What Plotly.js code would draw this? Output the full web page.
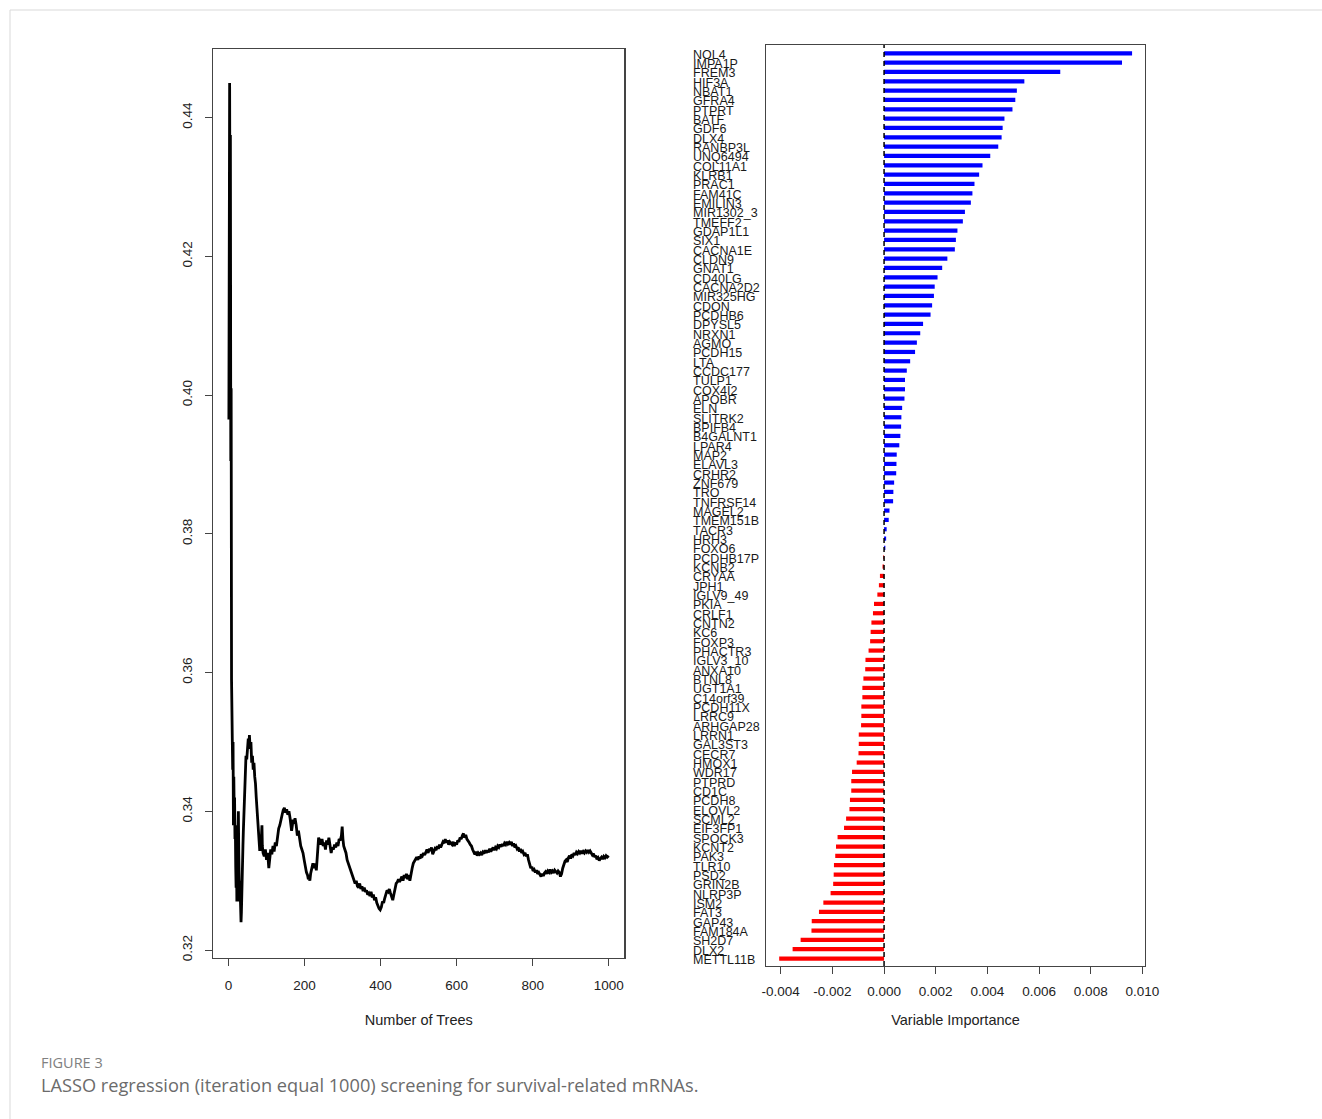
<!DOCTYPE html>
<html>
<head>
<meta charset="utf-8">
<script src="https://cdn.plot.ly/plotly-3.0.1.min.js"></script>
<style>
html,body{margin:0;padding:0;background:#fff;}
#chart{width:1322px;height:1119px;}
</style>
</head>
<body>
<div id="chart"></div>
<script>
// ---- Left panel: error vs number of trees ----
const treeNum = [1,2,3,4,5,6,7,8,9,10,11,12,13,14,15,16,17,18,19,20,21,22,23,24,25,26,27,28,29,30,
  31,32,33,34,35,36,37,38,39,40,41,42,43,44,46,48,50,52,54,55,57,59,61,63,65,67,69,71,73,75,77,79,80,82,85,87,88,89,91,94,97,100,103,106,108,
  111,114,117,120,123,126,129,132,135,138,141,144,147,150,153,156,159,162,164,166,168,170,172,175,178,181,184,187,190,193,196,199,202,205,208,210,212,214,216,219,
  222,225,228,231,234,237,240,243,246,249,252,255,258,261,264,267,270,273,276,279,282,285,288,291,294,297,299,301,303,306,309,312,315,318,321,324,327,330,
  333,336,339,342,345,348,351,354,357,360,363,366,369,372,375,378,381,384,387,390,393,396,399,402,405,408,411,414,417,420,423,426,429,432,435,438,441,444,447,450,
  453,456,459,462,465,468,471,474,477,480,483,486,489,492,495,498,501,504,507,510,513,516,519,522,525,528,531,534,537,540,543,546,549,552,555,558,561,564,567,570,
  573,576,579,582,585,588,591,594,597,600,603,606,609,612,615,618,621,624,627,630,633,636,639,642,645,648,651,654,657,660,663,666,669,672,675,678,681,684,687,690,
  693,696,699,702,705,708,711,714,717,720,723,726,729,732,735,738,741,744,747,750,753,756,759,762,765,768,771,774,777,780,783,786,789,792,795,798,801,804,807,810,
  813,816,819,822,825,828,831,834,837,840,843,846,849,852,855,858,861,864,867,870,873,876,879,882,885,888,891,894,897,900,903,906,909,912,915,918,921,924,927,930,
  933,936,939,942,945,948,951,954,957,960,963,966,969,972,975,978,981,984,987,990,993,996,1000];
const errRate = [0.3965,0.421,0.445,0.4205,0.4375,0.3905,0.401,0.359,0.352,0.3525,0.346,0.350,0.338,0.345,0.340,0.342,0.336,0.338,0.332,0.329,0.334,0.327,0.330,0.333,0.338,0.340,0.334,0.329,0.327,0.330,
  0.326,0.3245,0.324,0.3255,0.330,0.329,0.331,0.335,0.337,0.339,0.3385,0.342,0.344,0.346,0.348,0.3475,0.349,0.3505,0.3495,0.351,0.349,0.350,0.347,0.348,0.346,0.347,0.345,0.344,0.342,0.340,0.338,0.336,0.335,0.3345,0.3345,0.3365,0.338,0.335,0.334,0.3335,0.3345,0.333,0.334,0.3318,0.333,
  0.3345,0.3338,0.3350,0.3342,0.3355,0.3350,0.3365,0.3375,0.3380,0.3390,0.3395,0.3402,0.3405,0.3398,0.3403,0.3395,0.3400,0.3390,0.3384,0.3372,0.3380,0.3388,0.3382,0.3390,0.3380,0.3365,0.3372,0.3360,0.3350,0.3345,0.3340,0.3330,0.3320,0.3312,0.3308,0.3302,0.3305,0.3300,0.3310,0.3316,
  0.3325,0.3318,0.3325,0.3315,0.3345,0.3362,0.3358,0.3352,0.3360,0.3350,0.3355,0.3345,0.3358,0.3352,0.3362,0.3350,0.3340,0.3348,0.3345,0.3352,0.3348,0.3355,0.3350,0.3360,0.3358,0.3365,0.3378,0.3360,0.3350,0.3345,0.3340,0.3330,0.3325,0.3320,0.3316,0.3310,0.3305,0.3300,
  0.3296,0.3300,0.3292,0.3290,0.3296,0.3288,0.3292,0.3285,0.3290,0.3284,0.3286,0.3280,0.3282,0.3278,0.3284,0.3276,0.3280,0.3272,0.3276,0.3268,0.3262,0.3260,0.3258,0.3262,0.3270,0.3268,0.3275,0.3280,0.3286,0.3284,0.3288,0.3282,0.3275,0.3272,0.3280,0.3290,0.3296,0.3298,0.3302,0.3298,
  0.3302,0.3306,0.3300,0.3308,0.3304,0.3310,0.3302,0.3308,0.3300,0.3312,0.3318,0.3325,0.3328,0.3330,0.3334,0.3330,0.3335,0.3332,0.3338,0.3336,0.3340,0.3337,0.3342,0.3345,0.3340,0.3346,0.3343,0.3348,0.3338,0.3342,0.3346,0.3344,0.3350,0.3346,0.3352,0.3348,0.3352,0.3356,0.3354,0.3360,
  0.3355,0.3358,0.3352,0.3356,0.3354,0.3352,0.3356,0.3350,0.3355,0.3352,0.3358,0.3356,0.3362,0.3360,0.3365,0.3368,0.3362,0.3366,0.3360,0.3358,0.3355,0.3352,0.3350,0.3345,0.3340,0.3338,0.3342,0.3336,0.3340,0.3338,0.3340,0.3337,0.3341,0.3339,0.3344,0.3340,0.3344,0.3341,0.3346,0.3342,
  0.3345,0.3348,0.3344,0.3348,0.3346,0.3350,0.3348,0.3352,0.3349,0.3353,0.3350,0.3354,0.3352,0.3356,0.3353,0.3355,0.3352,0.3356,0.3350,0.3354,0.3348,0.3350,0.3346,0.3348,0.3342,0.3346,0.3340,0.3342,0.3338,0.3340,0.3335,0.3338,0.3330,0.3322,0.3318,0.3320,0.3314,0.3316,0.3312,0.3315,
  0.3310,0.3312,0.3308,0.3306,0.3310,0.3307,0.3311,0.3313,0.3310,0.3314,0.3312,0.3316,0.3312,0.3314,0.3311,0.3315,0.3313,0.3311,0.3314,0.3312,0.3306,0.3310,0.3318,0.3325,0.3328,0.3330,0.3327,0.3333,0.3336,0.3332,0.3338,0.3336,0.3340,0.3337,0.3341,0.3339,0.3342,0.3340,0.3343,0.3339,
  0.3342,0.3340,0.3343,0.3341,0.3344,0.3341,0.3343,0.3340,0.3337,0.3339,0.3334,0.3336,0.3331,0.3333,0.3329,0.3332,0.3334,0.3331,0.3335,0.3333,0.3336,0.3334,0.3336];
const treeTicks = [0,200,400,600,800,1000];
const errTicks = [0.32,0.34,0.36,0.38,0.40,0.42,0.44];
const errTickText = ["0.32","0.34","0.36","0.38","0.40","0.42","0.44"];

// ---- Right panel: variable importance ----
const genes = ["NOL4","IMPA1P","FREM3","HIF3A","NBAT1","GFRA4","PTPRT","BATF","GDF6","DLX4",
  "RANBP3L","UNQ6494","COL11A1","KLRB1","PRAC1","FAM41C","EMILIN3","MIR1302_3","TMEFF2","GDAP1L1",
  "SIX1","CACNA1E","CLDN9","GNAT1","CD40LG","CACNA2D2","MIR325HG","CDON","PCDHB6","DPYSL5",
  "NRXN1","AGMO","PCDH15","LTA","CCDC177","TULP1","COX4I2","APOBR","ELN","SLITRK2",
  "BPIFB4","B4GALNT1","LPAR4","MAP2","ELAVL3","CRHR2","ZNF679","TRO","TNFRSF14","MAGEL2",
  "TMEM151B","TACR3","HRH3","FOXO6","PCDHB17P","KCNB2","CRYAA","JPH1","IGLV9_49","PKIA",
  "CRLF1","CNTN2","KC6","FOXP3","PHACTR3","IGLV3_10","ANXA10","BTNL8","UGT1A1","C14orf39",
  "PCDH11X","LRRC9","ARHGAP28","LRRN1","GAL3ST3","CECR7","HMOX1","WDR17","PTPRD","CD1C",
  "PCDH8","ELOVL2","SCML2","EIF3FP1","SPOCK3","KCNT2","PAK3","TLR10","PSD2","GRIN2B",
  "NLRP3P","ISM2","FAT3","GAP43","FAM184A","SH2D7","DLX2","METTL11B"];
const importance = [0.0096,0.00921,0.00682,0.00543,0.00514,0.00508,0.00497,0.00466,0.00459,0.00455,
  0.00442,0.00411,0.00381,0.00368,0.0035,0.00342,0.00336,0.00313,0.00305,0.00284,
  0.00278,0.00274,0.00245,0.00225,0.00207,0.00196,0.00193,0.00186,0.0018,0.00151,
  0.0014,0.00127,0.0012,0.00101,0.00088,0.00081,0.00081,0.00079,0.0007,0.00067,
  0.00066,0.00063,0.00059,0.00049,0.00048,0.00047,0.00039,0.00036,0.00035,0.00021,
  0.00018,0.0001,0.00008,0.00005,-0.00003,-0.00006,-0.00016,-0.0002,-0.00026,-0.00039,
  -0.00043,-0.00049,-0.00052,-0.00054,-0.0006,-0.00072,-0.00073,-0.0008,-0.00084,-0.00084,
  -0.00088,-0.00088,-0.00089,-0.00098,-0.00098,-0.00099,-0.00106,-0.00124,-0.00127,-0.00127,
  -0.00132,-0.00134,-0.00147,-0.00155,-0.0018,-0.00186,-0.00189,-0.00194,-0.00195,-0.00197,
  -0.00207,-0.00235,-0.00252,-0.0028,-0.00281,-0.00323,-0.00354,-0.00406];
const impTicks = [-0.004,-0.002,0.000,0.002,0.004,0.006,0.008,0.010];
const impTickText = ["-0.004","-0.002","0.000","0.002","0.004","0.006","0.008","0.010"];

const captionLabel = "FIGURE 3";
const captionText = "LASSO regression (iteration equal 1000) screening for survival-related mRNAs.";

// ---- build ----
const W = 1322, H = 1119;
const px = v => v / W;
const py = v => 1 - v / H;
const FONT = "Liberation Sans, Arial, sans-serif";
const axisCol = "#444";

const rank = genes.map((g, i) => i);

const traces = [
  {type: "scatter", mode: "lines", x: treeNum, y: errRate, xaxis: "x", yaxis: "y",
   line: {color: "#000", width: 2.8}, hoverinfo: "x+y"},
  {type: "bar", orientation: "h", x: importance, y: rank, base: 0, width: 0.45,
   xaxis: "x2", yaxis: "y2",
   marker: {color: importance.map(v => v >= 0 ? "#0000FF" : "#FF0000"), line: {width: 0}},
   hovertext: genes, hoverinfo: "text+x"}
];

const baseAxis = {showgrid: false, zeroline: false, showline: true, mirror: true,
  linecolor: axisCol, linewidth: 1.2, ticks: "outside", ticklen: 7, tickwidth: 1,
  tickcolor: axisCol, automargin: false, fixedrange: true,
  tickfont: {family: FONT, size: 13.5, color: "#222"}};

const annotations = genes.map((g, i) => ({
  text: g, xref: "paper", yref: "y2", x: px(692), y: i, xanchor: "left", yanchor: "middle",
  showarrow: false, borderpad: 0, yshift: -1.5,
  font: {family: FONT, size: 12.5, color: "#1a1a1a"}
}));
annotations.push({text: captionLabel, xref: "paper", yref: "paper", x: px(39), y: py(1062),
  xanchor: "left", yanchor: "middle", showarrow: false,
  font: {family: "Open Sans, Noto Sans, sans-serif", size: 14.5, color: "#808080"}});
annotations.push({text: captionText, xref: "paper", yref: "paper", x: px(39), y: py(1085),
  xanchor: "left", yanchor: "middle", showarrow: false,
  font: {family: "Open Sans, Noto Sans, sans-serif", size: 18.2, color: "#6b6b6b"}});

const layout = {
  width: W, height: H, margin: {l: 0, r: 0, t: 0, b: 0},
  paper_bgcolor: "#fff", plot_bgcolor: "#fff", showlegend: false,
  font: {family: FONT, color: "#222"},
  xaxis: Object.assign({}, baseAxis, {domain: [px(213.3), px(624.3)], range: [-39.96, 1040.96],
    tickvals: treeTicks, ticktext: treeTicks.map(String), ticklabelstandoff: 8,
    title: {text: "Number of Trees", standoff: 22, font: {family: FONT, size: 14.5, color: "#222"}}}),
  yaxis: Object.assign({}, baseAxis, {domain: [py(957.7), py(49)], range: [0.3189, 0.4499],
    tickvals: errTicks, ticktext: errTickText, tickangle: -90, ticklabelstandoff: 8}),
  xaxis2: Object.assign({}, baseAxis, {anchor: "y2", domain: [px(766), px(1145)], range: [-0.00457, 0.0101],
    tickvals: impTicks, ticktext: impTickText, ticklabelstandoff: 6,
    title: {text: "Variable Importance", standoff: 16, font: {family: FONT, size: 14.5, color: "#222"}}}),
  yaxis2: Object.assign({}, baseAxis, {anchor: "x2", domain: [py(966), py(45)], range: [97.8, -0.89],
    ticks: "", showticklabels: false}),
  shapes: [
    {type: "line", xref: "x2", yref: "y2 domain", x0: 0, x1: 0, y0: 0, y1: 1,
     line: {color: "#000", width: 1.5, dash: "5px,4px"}, layer: "above"},
    {type: "rect", xref: "paper", yref: "paper", x0: px(10), x1: 1.02, y0: -0.02, y1: py(10),
     line: {color: "#d9d9d9", width: 1}, layer: "below"}
  ],
  annotations: annotations
};

Plotly.newPlot("chart", traces, layout, {displayModeBar: false, staticPlot: true});
</script>
</body>
</html>
